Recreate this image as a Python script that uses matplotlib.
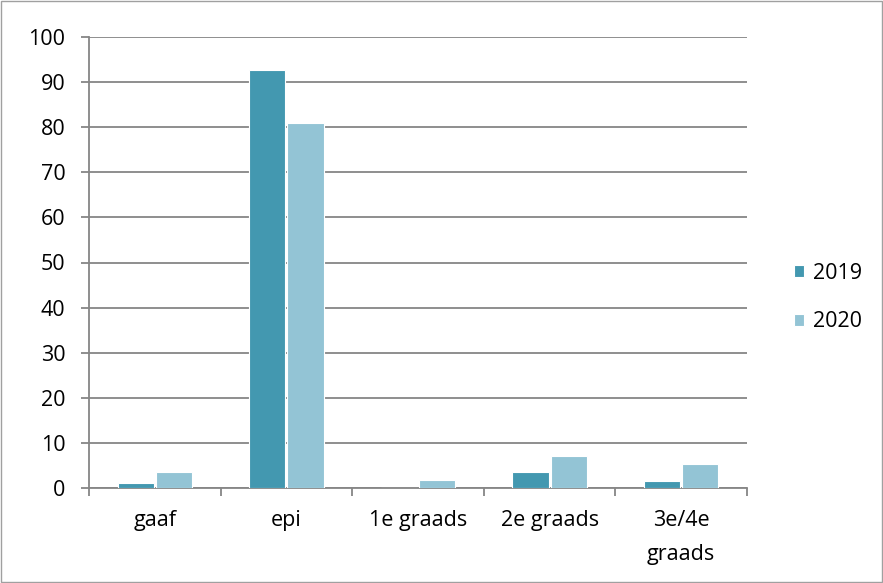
import matplotlib
matplotlib.use("Agg")
import matplotlib.pyplot as plt
import numpy as np

categories = ["gaaf", "epi", "1e graads", "2e graads", "3e/4e\ngraads"]
series_names = ["2019", "2020"]
values_2019 = [1.1, 92.6, 0.1, 3.5, 1.6]
values_2020 = [3.6, 81.0, 1.7, 7.2, 5.3]
yticks = [0, 10, 20, 30, 40, 50, 60, 70, 80, 90, 100]

colors = ["#4398B0", "#93C4D5"]
grid_color = "#868686"
fs = 15.5

plt.rcParams['font.family'] = ['Open Sans', 'DejaVu Sans']

fig = plt.figure(figsize=(8.83, 5.83), dpi=100)
ax = fig.add_axes([89/883, 1-488/583, (747-89)/883, (488-37)/583])

x = np.arange(len(categories))
w = 0.275
ax.bar(x - w/2 - 0.007, values_2019, w, color=colors[0], edgecolor="white", linewidth=0.8, label=series_names[0], zorder=3)
ax.bar(x + w/2 + 0.007, values_2020, w, color=colors[1], edgecolor="white", linewidth=0.8, label=series_names[1], zorder=3)

ax.set_xlim(-0.5, len(categories) - 0.5)
ax.set_ylim(0, 100)
ax.set_yticks(yticks)
ax.set_yticklabels([str(v) for v in yticks], fontsize=fs)
ax.yaxis.grid(True, color=grid_color, linewidth=1.3, zorder=0)
ax.set_axisbelow(True)

ax.set_xticks(x)
ax.set_xticklabels(categories, fontsize=fs, linespacing=1.8)
ax.tick_params(axis="x", length=0, pad=16)
ax.set_xticks(np.arange(-0.5, len(categories)), minor=True)
ax.tick_params(axis="x", which="minor", length=6, color=grid_color, width=1.3)
ax.tick_params(axis="y", length=6, color=grid_color, width=1.3, pad=11)

for s in ["top", "right"]:
    ax.spines[s].set_visible(False)
for s in ["left", "bottom"]:
    ax.spines[s].set_color(grid_color)
    ax.spines[s].set_linewidth(1.3)

leg = ax.legend(loc="center left", bbox_to_anchor=(794/883, 1-297.5/583),
                bbox_transform=fig.transFigure, frameon=False, borderaxespad=0, borderpad=0,
                fontsize=fs, handlelength=0.47, handleheight=0.47, labelspacing=1.3,
                handletextpad=0.4)

fig.patches.append(plt.Rectangle((0.001, 0.001), 0.998, 0.998, transform=fig.transFigure,
                                 fill=False, edgecolor="#A0A0A0", linewidth=1))

fig.savefig("out.png", dpi=100)
